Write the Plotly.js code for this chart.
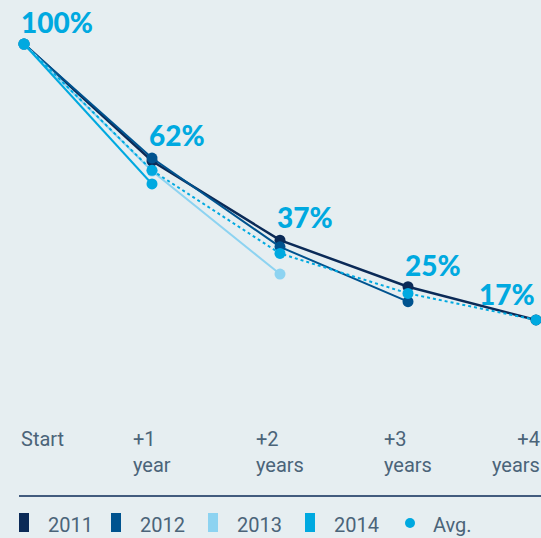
<!DOCTYPE html>
<html>
<head>
<meta charset="utf-8">
<script src="https://cdn.plot.ly/plotly-3.0.1.min.js"></script>
<style>
  html, body { margin: 0; padding: 0; background: #e6eef1; }
  #chart { width: 541px; height: 538px; }
</style>
</head>
<body>
<div id="chart"></div>
<script>
const stageLabels = ['Start', '+1<br>year', '+2<br>years', '+3<br>years', '+4<br>years'];
const cohortYears = ['2011', '2012', '2013', '2014'];
const retention2011 = [100, 64.8, 41.0, 27.0, 17];
const retention2012 = [100, 65.7, 39.0, 22.5];
const retention2013 = [100, 61.8, 30.8];
const retention2014 = [100, 57.9];
const retentionAvg = [100, 62, 37, 25, 17];
const avgLabel = 'Avg.';

const COHORT_COLORS = {
  '2011': '#0b2a57',
  '2012': '#00538f',
  '2013': '#8dd3f1',
  '2014': '#00a9e0',
};
const AVG_COLOR = '#00a9e0';
const TEXT_COLOR = '#4b6479';
const W = 541, H = 538;

// helpers to place things in page pixels
const px = x => x / W;
const py = y => 1 - y / H;

const cohortSeries = [retention2011, retention2012, retention2013, retention2014];

let plotData = [];
cohortSeries.forEach((values, i) => {
  const year = cohortYears[i];
  plotData.push({
    name: year,
    x: values.map((v, k) => k),
    y: values,
    mode: 'lines+markers',
    line: { color: COHORT_COLORS[year], width: i === 0 ? 2.5 : 2 },
    marker: { color: COHORT_COLORS[year], size: 11 },
    hoverinfo: 'skip',
    showlegend: false,
  });
});

plotData.push({
  name: avgLabel,
  x: retentionAvg.map((v, k) => k),
  y: retentionAvg,
  mode: 'lines+markers',
  line: { color: AVG_COLOR, width: 2, dash: 'dot' },
  marker: { color: AVG_COLOR, size: 11 },
  hoverinfo: 'skip',
  showlegend: false,
});

const annotations = [];
const shapes = [];

// percentage labels above the average points
const labelShift = [22, 35, 36, 28, 26];
retentionAvg.forEach((v, k) => {
  const last = k === retentionAvg.length - 1;
  annotations.push({
    x: k, y: v, xref: 'x', yref: 'y',
    text: `${Math.round(v)}%`,
    showarrow: false,
    xanchor: last ? 'right' : 'left',
    yanchor: 'middle',
    xshift: last ? 1 : -5,
    yshift: labelShift[k],
    font: { family: 'Lato, sans-serif', size: 28, weight: 900, color: AVG_COLOR },
  });
});

// x stage labels
stageLabels.forEach((label, k) => {
  const first = k === 0, last = k === stageLabels.length - 1;
  annotations.push({
    x: first ? px(19) : (last ? px(542) : k), y: py(425),
    xref: first || last ? 'paper' : 'x', yref: 'paper',
    text: label,
    showarrow: false,
    align: last ? 'right' : 'left',
    xanchor: first ? 'left' : (last ? 'right' : 'center'),
    yanchor: 'top',
    font: { family: 'Roboto, sans-serif', size: 20, color: TEXT_COLOR },
  });
});

// rule above legend
shapes.push({
  type: 'line', xref: 'paper', yref: 'paper',
  x0: px(19), x1: px(541), y0: py(496), y1: py(496),
  line: { color: '#0b2a57', width: 1.5 },
});

// custom legend
const legendX = [19, 111, 208, 305];
cohortYears.forEach((year, i) => {
  shapes.push({
    type: 'rect', xref: 'paper', yref: 'paper',
    x0: px(legendX[i]), x1: px(legendX[i] + 10),
    y0: py(532), y1: py(513),
    fillcolor: COHORT_COLORS[year], line: { width: 0 },
  });
  annotations.push({
    x: px(legendX[i] + 27), y: py(525), xref: 'paper', yref: 'paper',
    text: year, showarrow: false, xanchor: 'left', yanchor: 'middle',
    font: { family: 'Roboto, sans-serif', size: 20, color: TEXT_COLOR },
  });
});
shapes.push({
  type: 'circle', xref: 'paper', yref: 'paper',
  x0: px(405), x1: px(415), y0: py(528), y1: py(518),
  fillcolor: AVG_COLOR, line: { width: 0 },
});
annotations.push({
  x: px(431), y: py(525), xref: 'paper', yref: 'paper',
  text: avgLabel, showarrow: false, xanchor: 'left', yanchor: 'middle',
  font: { family: 'Roboto, sans-serif', size: 20, color: TEXT_COLOR },
});

const plotLayout = {
  width: W,
  height: H,
  margin: { l: 0, r: 0, t: 0, b: 0 },
  paper_bgcolor: '#e6eef1',
  plot_bgcolor: '#e6eef1',
  xaxis: {
    range: [-24 / 128, (541 - 24) / 128],
    visible: false,
    fixedrange: true,
  },
  yaxis: {
    range: [100 - (538 - 44) / 3.325, 100 + 44 / 3.325],
    visible: false,
    fixedrange: true,
  },
  showlegend: false,
  annotations: annotations,
  shapes: shapes,
};

Plotly.newPlot('chart', plotData, plotLayout, { displayModeBar: false, staticPlot: true });
</script>
</body>
</html>
